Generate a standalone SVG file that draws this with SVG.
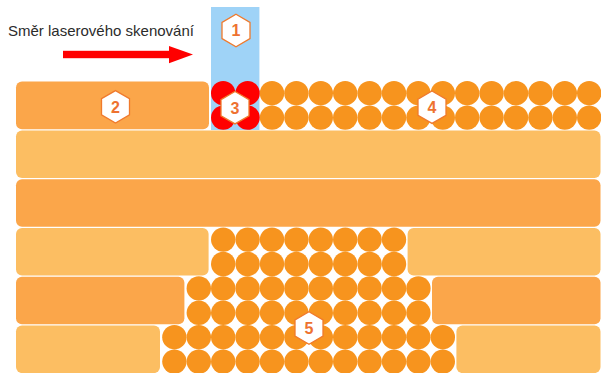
<svg xmlns="http://www.w3.org/2000/svg" width="601" height="373" viewBox="0 0 601 373">
<defs>
<style>
.dk{fill:#FBA64A}
.lt{fill:#FCBE62}
.c{fill:#F7941E}
.r{fill:#FF0000}
.hex{fill:#FFFFFF;stroke:#F07A2C;stroke-width:1.3}
.num{font-family:"Liberation Sans",Arial,sans-serif;font-weight:bold;font-size:16px;fill:#EE7230;text-anchor:middle}
.cap{font-family:"Liberation Sans",Arial,sans-serif;font-size:15px;fill:#2B2B2B}
</style>
<circle id="p" r="12.2"/>
<polygon id="hx" points="0,-16.2 14,-8.1 14,8.1 0,16.2 -14,8.1 -14,-8.1"/>
</defs>
<rect width="601" height="373" fill="#FFFFFF"/>

<g id="laser-beam">
<rect x="211" y="7" width="48.4" height="123" fill="#9FD3F7"/>
</g>

<g id="layers">
<rect class="dk" x="16" y="81.5" width="193" height="47.8" rx="6"/>
<rect class="lt" x="16" y="130.4" width="584.5" height="47.5" rx="6"/>
<rect class="dk" x="16" y="179.2" width="584.5" height="47.5" rx="6"/>
<rect class="lt" x="16" y="228" width="192.6" height="47.5" rx="6"/>
<rect class="lt" x="407.6" y="228" width="192.9" height="47.5" rx="6"/>
<rect class="dk" x="16" y="276.8" width="168.4" height="47.5" rx="6"/>
<rect class="dk" x="432" y="276.8" width="168.5" height="47.5" rx="6"/>
<rect class="lt" x="16" y="325.6" width="144" height="47.5" rx="6"/>
<rect class="lt" x="456.4" y="325.6" width="144.1" height="47.5" rx="6"/>
</g>

<g id="melted-particles">
<use href="#p" class="r" x="223.2" y="93.2"/>
<use href="#p" class="r" x="247.6" y="93.2"/>
<use href="#p" class="r" x="223.2" y="117.6"/>
<use href="#p" class="r" x="247.6" y="117.6"/>
</g>

<g id="powder-top">
<g class="c">
<use href="#p" x="272" y="93.2"/><use href="#p" x="296.4" y="93.2"/><use href="#p" x="320.8" y="93.2"/><use href="#p" x="345.2" y="93.2"/><use href="#p" x="369.6" y="93.2"/><use href="#p" x="394" y="93.2"/><use href="#p" x="418.4" y="93.2"/><use href="#p" x="442.8" y="93.2"/><use href="#p" x="467.2" y="93.2"/><use href="#p" x="491.6" y="93.2"/><use href="#p" x="516" y="93.2"/><use href="#p" x="540.4" y="93.2"/><use href="#p" x="564.8" y="93.2"/><use href="#p" x="589.2" y="93.2"/>
<use href="#p" x="272" y="117.6"/><use href="#p" x="296.4" y="117.6"/><use href="#p" x="320.8" y="117.6"/><use href="#p" x="345.2" y="117.6"/><use href="#p" x="369.6" y="117.6"/><use href="#p" x="394" y="117.6"/><use href="#p" x="418.4" y="117.6"/><use href="#p" x="442.8" y="117.6"/><use href="#p" x="467.2" y="117.6"/><use href="#p" x="491.6" y="117.6"/><use href="#p" x="516" y="117.6"/><use href="#p" x="540.4" y="117.6"/><use href="#p" x="564.8" y="117.6"/><use href="#p" x="589.2" y="117.6"/>
</g>
</g>

<g id="powder-bed">
<g class="c">
<use href="#p" x="223.2" y="239.6"/><use href="#p" x="247.6" y="239.6"/><use href="#p" x="272" y="239.6"/><use href="#p" x="296.4" y="239.6"/><use href="#p" x="320.8" y="239.6"/><use href="#p" x="345.2" y="239.6"/><use href="#p" x="369.6" y="239.6"/><use href="#p" x="394" y="239.6"/>
<use href="#p" x="223.2" y="264"/><use href="#p" x="247.6" y="264"/><use href="#p" x="272" y="264"/><use href="#p" x="296.4" y="264"/><use href="#p" x="320.8" y="264"/><use href="#p" x="345.2" y="264"/><use href="#p" x="369.6" y="264"/><use href="#p" x="394" y="264"/>
<use href="#p" x="198.8" y="288.4"/><use href="#p" x="223.2" y="288.4"/><use href="#p" x="247.6" y="288.4"/><use href="#p" x="272" y="288.4"/><use href="#p" x="296.4" y="288.4"/><use href="#p" x="320.8" y="288.4"/><use href="#p" x="345.2" y="288.4"/><use href="#p" x="369.6" y="288.4"/><use href="#p" x="394" y="288.4"/><use href="#p" x="418.4" y="288.4"/>
<use href="#p" x="198.8" y="312.8"/><use href="#p" x="223.2" y="312.8"/><use href="#p" x="247.6" y="312.8"/><use href="#p" x="272" y="312.8"/><use href="#p" x="296.4" y="312.8"/><use href="#p" x="320.8" y="312.8"/><use href="#p" x="345.2" y="312.8"/><use href="#p" x="369.6" y="312.8"/><use href="#p" x="394" y="312.8"/><use href="#p" x="418.4" y="312.8"/>
<use href="#p" x="174.4" y="337.2"/><use href="#p" x="198.8" y="337.2"/><use href="#p" x="223.2" y="337.2"/><use href="#p" x="247.6" y="337.2"/><use href="#p" x="272" y="337.2"/><use href="#p" x="296.4" y="337.2"/><use href="#p" x="320.8" y="337.2"/><use href="#p" x="345.2" y="337.2"/><use href="#p" x="369.6" y="337.2"/><use href="#p" x="394" y="337.2"/><use href="#p" x="418.4" y="337.2"/><use href="#p" x="442.8" y="337.2"/>
<use href="#p" x="174.4" y="361.6"/><use href="#p" x="198.8" y="361.6"/><use href="#p" x="223.2" y="361.6"/><use href="#p" x="247.6" y="361.6"/><use href="#p" x="272" y="361.6"/><use href="#p" x="296.4" y="361.6"/><use href="#p" x="320.8" y="361.6"/><use href="#p" x="345.2" y="361.6"/><use href="#p" x="369.6" y="361.6"/><use href="#p" x="394" y="361.6"/><use href="#p" x="418.4" y="361.6"/><use href="#p" x="442.8" y="361.6"/>
</g>
</g>

<g id="caption">
<text class="cap" x="8" y="35.5">Směr laserového skenování</text>
</g>

<g id="connectors">
<rect x="63" y="50.8" width="108" height="7.4" fill="#FF0000"/>
<polygon points="169,46 193,54.5 169,63.2" fill="#FF0000"/>
</g>

<g id="label-1"><use href="#hx" class="hex" x="236" y="30.5"/><text class="num" x="236" y="36.3">1</text></g>
<g id="label-2"><use href="#hx" class="hex" x="115.5" y="106.8"/><text class="num" x="115.5" y="112.6">2</text></g>
<g id="label-3"><use href="#hx" class="hex" x="235" y="107.7"/><text class="num" x="235" y="113.5">3</text></g>
<g id="label-4"><use href="#hx" class="hex" x="432" y="107.2"/><text class="num" x="432" y="113">4</text></g>
<g id="label-5"><use href="#hx" class="hex" x="309" y="328"/><text class="num" x="309" y="333.8">5</text></g>
</svg>
